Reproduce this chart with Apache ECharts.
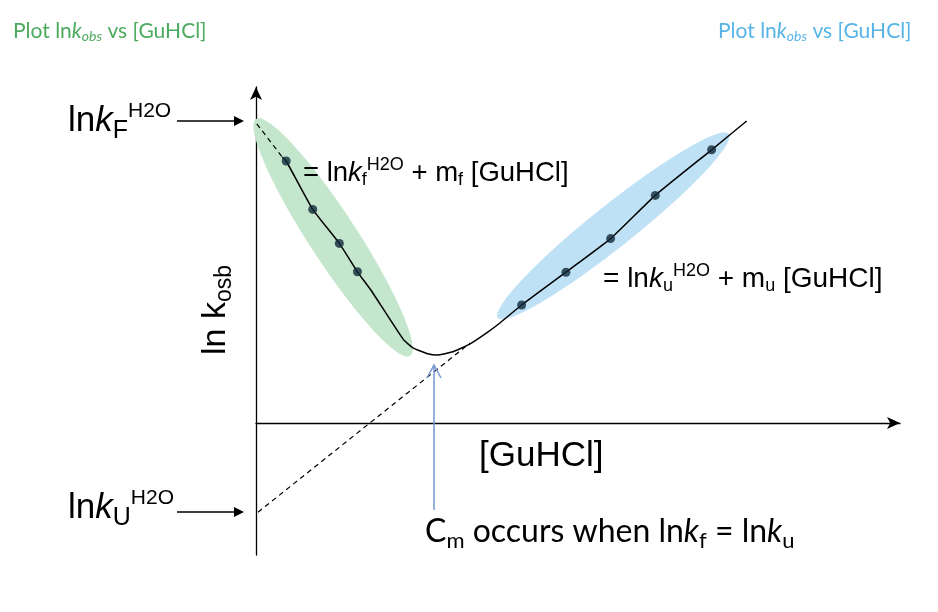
<!DOCTYPE html>
<html>
<head>
<meta charset="utf-8">
<script src="https://cdn.jsdelivr.net/npm/echarts@6/dist/echarts.min.js"></script>
<style>
  html, body { margin: 0; padding: 0; background: #fff; }
  #chart { width: 938px; height: 612px; }
</style>
</head>
<body>
<div id="chart"></div>
<script>
// [GuHCl] (arbitrary units) vs ln k_obs
var foldedPts = [[0.75, 6.55], [1.41, 5.34], [2.07, 4.49], [2.52, 3.78]];
var unfoldedPts = [[6.60, 2.95], [7.70, 3.77], [8.81, 4.61], [9.92, 5.69], [11.32, 6.83]];

// chevron curve: folded arm -> rollover -> unfolded arm
var chevronX = [0.65, 0.75, 1.41, 2.07, 2.52, 2.87, 3.66, 3.90, 4.27, 4.50, 4.89, 5.32, 5.74, 6.06, 6.60, 7.70, 8.81, 9.92, 11.32, 12.19];
var chevronY = [6.65, 6.55, 5.34, 4.49, 3.78, 3.30, 2.09, 1.88, 1.73, 1.70, 1.78, 1.98, 2.26, 2.50, 2.95, 3.77, 4.61, 5.69, 6.83, 7.55];

// dashed extrapolations to zero denaturant
var foldedExtrap = [[0.02, 7.48], [0.65, 6.65]];
var unfoldedExtrap = [[0.05, -2.23], [5.32, 2.00]];

// highlighted regions (ends of the long axis)
var foldedRegion = [0.0, 7.6, 3.83, 1.68];
var unfoldedRegion = [6.01, 2.63, 11.75, 7.23];

var ARIAL = '"Liberation Sans", Arial, sans-serif';
var CALIBRI = 'Lato, "Open Sans", sans-serif';
var GREEN = '#4caa5e';
var BLUE = '#56b4e6';

var chart = echarts.init(document.getElementById('chart'));

function ellipseSeries(region, color, halfWidth) {
  return {
    type: 'custom',
    silent: true,
    z: 1,
    data: [region],
    renderItem: function (params, api) {
      var p1 = api.coord([api.value(0), api.value(1)]);
      var p2 = api.coord([api.value(2), api.value(3)]);
      var cx = (p1[0] + p2[0]) / 2, cy = (p1[1] + p2[1]) / 2;
      var dx = p2[0] - p1[0], dy = p2[1] - p1[1];
      var a = Math.sqrt(dx * dx + dy * dy) / 2;
      var ang = Math.atan2(dy, dx);
      var pts = [];
      for (var i = 0; i < 90; i++) {
        var t = i / 90 * Math.PI * 2;
        var ex = a * Math.cos(t), ey = halfWidth * Math.sin(t);
        pts.push([cx + ex * Math.cos(ang) - ey * Math.sin(ang),
                  cy + ex * Math.sin(ang) + ey * Math.cos(ang)]);
      }
      return { type: 'polygon', shape: { points: pts }, style: { fill: color } };
    }
  };
}

function rich(base, sub, sup, family) {
  return {
    b: { fontSize: base, fontFamily: family },
    i: { fontSize: base, fontFamily: family, fontStyle: 'italic' },
    sb: { fontSize: sub, fontFamily: family, padding: [Math.round(sub * 0.8), 0, 0, 0] },
    sbi: { fontSize: sub, fontFamily: family, fontStyle: 'italic', padding: [Math.round(sub * 0.8), 0, 0, 0] },
    sp: { fontSize: sup, fontFamily: family, padding: [0, 0, Math.round(sup * 0.9), 0] }
  };
}

function label(x, y, text, r, color, extra) {
  var el = {
    type: 'text', x: x, y: y, z: 10,
    style: { text: text, rich: r, fill: color || '#000', align: 'left', verticalAlign: 'middle' }
  };
  if (extra) for (var k in extra) el[k] = extra[k];
  return el;
}

function hArrow(x1, x2, y) {
  return [
    { type: 'line', z: 10, shape: { x1: x1, y1: y, x2: x2 - 8, y2: y }, style: { stroke: '#000', lineWidth: 1.3 } },
    { type: 'polygon', z: 10, shape: { points: [[x2 - 10, y - 5], [x2, y], [x2 - 10, y + 5]] }, style: { fill: '#000' } }
  ];
}

var graphics = [
  label(13, 31, '{b|Plot ln}{i|k}{sbi|obs}{b| vs [GuHCl]}', rich(21, 14, 14, CALIBRI), GREEN),
  label(718, 31, '{b|Plot ln}{i|k}{sbi|obs}{b| vs [GuHCl]}', rich(21, 14, 14, CALIBRI), BLUE),
  label(68, 121, '{b|ln}{i|k}{sb|F}{sp|H2O}', rich(35, 25, 21, ARIAL)),
  label(68, 508, '{b|ln}{i|k}{sb|U}{sp|H2O}', rich(35, 25, 21, ARIAL)),
  label(303, 173, '{b|= ln}{i|k}{sb|f}{sp|H2O}{b| + m}{sb|f}{b| [GuHCl]}', rich(27.5, 18, 18, ARIAL)),
  label(603, 279, '{b|= ln}{i|k}{sb|u}{sp|H2O}{b| + m}{sb|u}{b| [GuHCl]}', rich(28, 18, 18, ARIAL)),
  label(479, 456, '{b|[GuHCl]}', rich(35, 24, 24, ARIAL)),
  label(425, 532, '{b|C}{sb|m}{b| occurs when ln}{i|k}{sb|f}{b| = ln}{i|k}{sb|u}', rich(32, 22, 22, CALIBRI)),
  label(216, 310, '', null, '#000',
        { rotation: Math.PI / 2, style: { text: '{b|ln k}{sb|osb}', rich: rich(34, 23, 23, ARIAL), fill: '#000', align: 'center', verticalAlign: 'middle' } }),
  { type: 'line', z: 10, shape: { x1: 434, y1: 510, x2: 434, y2: 366 }, style: { stroke: '#7097cc', lineWidth: 1.5 } },
  { type: 'polyline', z: 10, shape: { points: [[427, 378], [434, 365], [441, 378]] }, style: { stroke: '#7097cc', lineWidth: 1.5, fill: null } }
].concat(hArrow(177, 244, 121), hArrow(177, 244, 512));

chart.setOption({
  animation: false,
  backgroundColor: '#fff',
  grid: { left: 256, right: 38, top: 87, bottom: 57 },
  xAxis: {
    type: 'value', min: 0, max: 16,
    axisLine: { show: true, onZero: true, symbol: ['none', 'arrow'], symbolSize: [9, 13], lineStyle: { color: '#000', width: 1.3 } },
    axisTick: { show: false }, axisLabel: { show: false }, splitLine: { show: false }
  },
  yAxis: {
    type: 'value', min: -3.3, max: 8.4,
    axisLine: { show: true, onZero: true, symbol: ['none', 'arrow'], symbolSize: [9, 13], lineStyle: { color: '#000', width: 1.3 } },
    axisTick: { show: false }, axisLabel: { show: false }, splitLine: { show: false }
  },
  graphic: graphics,
  series: [
    ellipseSeries(foldedRegion, '#c3e6cd', 24),
    ellipseSeries(unfoldedRegion, '#bfe1f6', 21),
    {
      type: 'line', data: foldedExtrap, symbol: 'none', z: 3,
      lineStyle: { color: '#000', width: 1.2, type: [5, 4] }
    },
    {
      type: 'line', data: unfoldedExtrap, symbol: 'none', z: 3,
      lineStyle: { color: '#000', width: 1.2, type: [5, 4] }
    },
    {
      type: 'line', data: chevronX.map(function (x, i) { return [x, chevronY[i]]; }),
      symbol: 'none', smooth: 0.15, z: 4,
      lineStyle: { color: '#000', width: 1.5 }
    },
    {
      type: 'scatter', data: foldedPts.concat(unfoldedPts), symbolSize: 9, z: 5,
      itemStyle: { color: '#12293a' }
    }
  ]
});
</script>
</body>
</html>
